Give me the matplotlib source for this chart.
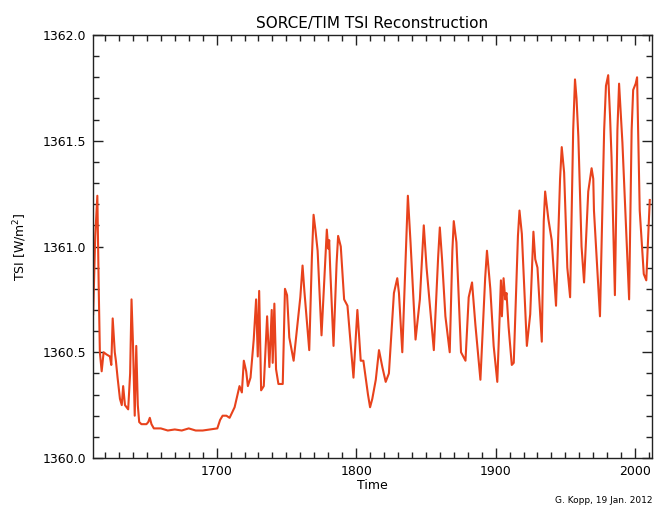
import matplotlib
matplotlib.use("Agg")
import matplotlib.pyplot as plt
from matplotlib.ticker import MultipleLocator

# values
years = [
    1611.5, 1613.0, 1614.5, 1615.5, 1616.3, 1617.6, 1619.0, 1621.0, 1623.5, 1624.5,
    1625.5, 1627.0, 1627.8, 1629.0, 1630.7, 1632.0, 1633.0, 1634.3, 1636.6, 1638.0,
    1639.0, 1640.0, 1641.3, 1642.4, 1643.5, 1644.5, 1646.1, 1649.7, 1651.0, 1652.1,
    1653.3, 1655.0, 1660.0, 1665.0, 1670.0, 1675.0, 1680.0, 1685.0, 1690.0, 1695.0,
    1700.5, 1702.5, 1704.3, 1707.0, 1709.3, 1712.9, 1716.4, 1718.1, 1719.5, 1721.2,
    1722.4, 1724.3, 1726.6, 1728.3, 1729.5, 1730.5, 1731.9, 1733.8, 1736.2, 1737.8,
    1739.5, 1740.2, 1741.4, 1742.6, 1744.3, 1747.4, 1749.0, 1750.5, 1752.1, 1755.2,
    1758.1, 1760.0, 1761.6, 1762.9, 1766.4, 1768.3, 1769.5, 1770.8, 1772.4, 1775.2,
    1777.8, 1779.0, 1780.0, 1780.7, 1781.4, 1783.8, 1786.0, 1787.1, 1789.0, 1791.4,
    1793.8, 1798.1, 1800.9, 1803.3, 1805.2, 1808.5, 1810.0, 1811.6, 1814.1, 1816.4,
    1818.8, 1821.2, 1823.5, 1827.1, 1829.5, 1830.7, 1833.1, 1835.8, 1837.1, 1839.0,
    1842.6, 1845.7, 1848.5, 1850.5, 1852.8, 1855.7, 1858.8, 1860.0, 1861.6, 1864.0,
    1867.1, 1869.0, 1870.0, 1871.9, 1875.2, 1878.4, 1880.7, 1883.1, 1885.5, 1889.1,
    1892.5, 1893.8, 1896.2, 1898.6, 1901.2, 1903.8, 1904.5, 1905.7, 1906.9, 1907.8,
    1909.3, 1911.6, 1913.0, 1916.0, 1917.1, 1918.8, 1922.4, 1924.8, 1927.1, 1928.4,
    1930.0, 1933.1, 1934.5, 1935.5, 1937.8, 1940.2, 1943.3, 1946.2, 1947.4, 1949.1,
    1951.4, 1953.4, 1955.6, 1956.9, 1958.0, 1959.3, 1961.6, 1963.4, 1966.4, 1968.8,
    1970.0, 1970.5, 1971.2, 1974.8, 1977.8, 1979.1, 1980.7, 1982.0, 1983.1, 1985.5,
    1987.3, 1988.5, 1990.9, 1995.7, 1997.5, 1998.6, 2000.4, 2001.4, 2003.3, 2006.2,
    2008.0, 2010.5,
]
tsi = [
    1360.68, 1361.05, 1361.24, 1360.80, 1360.50, 1360.41, 1360.50, 1360.49, 1360.48, 1360.44,
    1360.66, 1360.50, 1360.46, 1360.38, 1360.28, 1360.25, 1360.34, 1360.25, 1360.23, 1360.40,
    1360.75, 1360.55, 1360.20, 1360.53, 1360.25, 1360.17, 1360.16, 1360.16, 1360.17, 1360.19,
    1360.16, 1360.14, 1360.14, 1360.13, 1360.135, 1360.13, 1360.14, 1360.13, 1360.13, 1360.135,
    1360.14, 1360.18, 1360.20, 1360.20, 1360.19, 1360.24, 1360.34, 1360.31, 1360.46, 1360.41,
    1360.34, 1360.38, 1360.56, 1360.75, 1360.48, 1360.79, 1360.32, 1360.34, 1360.67, 1360.43,
    1360.70, 1360.45, 1360.73, 1360.42, 1360.35, 1360.35, 1360.80, 1360.77, 1360.57, 1360.46,
    1360.64, 1360.76, 1360.91, 1360.79, 1360.51, 1360.95, 1361.15, 1361.08, 1360.98, 1360.58,
    1360.92, 1361.08, 1360.99, 1361.03, 1360.90, 1360.53, 1360.92, 1361.05, 1361.00, 1360.75,
    1360.72, 1360.38, 1360.70, 1360.46, 1360.46, 1360.30, 1360.24, 1360.28, 1360.37, 1360.51,
    1360.43, 1360.36, 1360.40, 1360.78, 1360.85, 1360.78, 1360.50, 1361.00, 1361.24, 1361.02,
    1360.56, 1360.75, 1361.10, 1360.90, 1360.73, 1360.51, 1360.95, 1361.09, 1360.94, 1360.67,
    1360.50, 1360.98, 1361.12, 1361.02, 1360.50, 1360.46, 1360.76, 1360.83, 1360.63, 1360.37,
    1360.85, 1360.98, 1360.80, 1360.53, 1360.36, 1360.84, 1360.67, 1360.85, 1360.75, 1360.78,
    1360.62, 1360.44, 1360.45, 1361.05, 1361.17, 1361.06, 1360.53, 1360.68, 1361.07, 1360.94,
    1360.90, 1360.55, 1361.12, 1361.26, 1361.13, 1361.03, 1360.72, 1361.32, 1361.47, 1361.35,
    1360.90, 1360.76, 1361.55, 1361.79, 1361.70, 1361.52, 1361.00, 1360.83, 1361.26, 1361.37,
    1361.32, 1361.17, 1361.09, 1360.67, 1361.55, 1361.76, 1361.81, 1361.62, 1361.42, 1360.77,
    1361.55, 1361.77, 1361.49, 1360.75, 1361.55, 1361.74, 1361.77, 1361.80, 1361.17, 1360.87,
    1360.84, 1361.22,
]

fig = plt.figure(figsize=(6.56, 5.11), dpi=100)
ax = fig.add_axes([0.1418, 0.1037, 0.8521, 0.8278])

ax.plot(years, tsi, color='#e8421c', lw=1.5)

ax.set_xlim(1611.4, 2012.1)
ax.set_ylim(1360.0, 1362.0)

# ticks inward on all four sides, like the IDL original
ax.xaxis.set_major_locator(MultipleLocator(100))
ax.xaxis.set_minor_locator(MultipleLocator(10))
ax.yaxis.set_major_locator(MultipleLocator(0.5))
ax.yaxis.set_minor_locator(MultipleLocator(0.1))
ax.yaxis.set_major_formatter(matplotlib.ticker.FormatStrFormatter('%.1f'))
ax.tick_params(which='both', direction='in', top=True, right=True, labelsize=9,
               color='#222222', width=1)
ax.tick_params(which='major', length=7, pad=5)
ax.tick_params(which='minor', length=4)
for s in ax.spines.values():
    s.set_color('#222222')
    s.set_linewidth(1)

ax.set_title('SORCE/TIM TSI Reconstruction', fontsize=11, pad=5)
ax.set_xlabel('Time', fontsize=9, labelpad=1)
ax.set_ylabel('TSI [W/m$^2$]', fontsize=9, labelpad=10)

fig.text(0.995, 0.012, 'G. Kopp, 19 Jan. 2012', fontsize=6.5, ha='right', va='bottom')

fig.savefig('out.png', dpi=100)
